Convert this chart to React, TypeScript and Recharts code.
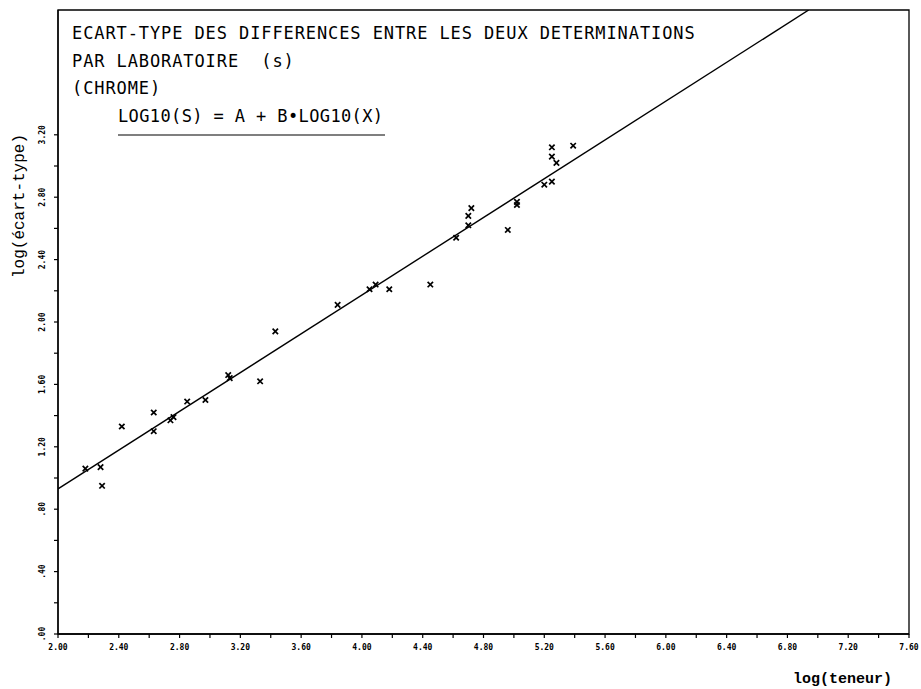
import React from 'react';
import {
  ComposedChart, Scatter, Line, XAxis, YAxis, ReferenceArea
} from 'recharts';

// log(teneur) / log(écart-type) pairs
const logTeneur = [
  2.18, 2.28, 2.29, 2.42, 2.63, 2.63, 2.74, 2.76, 2.85, 2.97, 3.12, 3.13, 3.33,
  3.43, 3.84, 4.05, 4.09, 4.18, 4.45, 4.62, 4.70, 4.70, 4.72, 4.96, 5.02, 5.02,
  5.20, 5.25, 5.25, 5.25, 5.28, 5.39,
];
const logEcart = [
  1.06, 1.07, 0.95, 1.33, 1.42, 1.30, 1.37, 1.39, 1.49, 1.50, 1.66, 1.64, 1.62,
  1.94, 2.11, 2.21, 2.24, 2.21, 2.24, 2.54, 2.62, 2.68, 2.73, 2.59, 2.77, 2.75,
  2.88, 2.90, 3.06, 3.12, 3.02, 3.13,
];
const points = logTeneur.map((x, i) => ({ x, y: logEcart[i] }));

// regression line LOG10(S) = A + B*LOG10(X), ends
const fitX = [2.0, 6.94];
const fitY = [0.93, 4.0];
const fitLine = fitX.map((x, i) => ({ x, y: fitY[i] }));

const xTicks = [
  2.0, 2.2, 2.4, 2.6, 2.8, 3.0, 3.2, 3.4, 3.6, 3.8, 4.0, 4.2, 4.4, 4.6, 4.8,
  5.0, 5.2, 5.4, 5.6, 5.8, 6.0, 6.2, 6.4, 6.6, 6.8, 7.0, 7.2, 7.4, 7.6,
];
const xLabels: Record<string, string> = {
  '2.00': '2.00', '2.40': '2.40', '2.80': '2.80', '3.20': '3.20', '3.60': '3.60',
  '4.00': '4.00', '4.40': '4.40', '4.80': '4.80', '5.20': '5.20', '5.60': '5.60',
  '6.00': '6.00', '6.40': '6.40', '6.80': '6.80', '7.20': '7.20', '7.60': '7.60',
};
const yTicks = [
  0, 0.2, 0.4, 0.6, 0.8, 1.0, 1.2, 1.4, 1.6, 1.8, 2.0, 2.2, 2.4, 2.6, 2.8, 3.0, 3.2,
];
const yLabels: Record<string, string> = {
  '0.00': '.00', '0.40': '.40', '0.80': '.80', '1.20': '1.20', '1.60': '1.60',
  '2.00': '2.00', '2.40': '2.40', '2.80': '2.80', '3.20': '3.20',
};

const titleLines = [
  'ECART-TYPE DES DIFFERENCES ENTRE LES DEUX DETERMINATIONS',
  'PAR LABORATOIRE  (s)',
  '(CHROME)',
];
const formula = 'LOG10(S) = A + B•LOG10(X)';

const tickFont = { fontFamily: 'DejaVu Sans Mono', fontWeight: 'bold', fontSize: 8, fill: '#000' };
const titleFont = { fontFamily: 'DejaVu Sans Mono', fontSize: 17, letterSpacing: 0.9, fill: '#000' };

const XMark = (props: any) => {
  const { cx, cy } = props;
  if (cx == null || cy == null) return null;
  const r = 2.7;
  return (
    <g stroke="#000" strokeWidth={1.7}>
      <line x1={cx - r} y1={cy - r} x2={cx + r} y2={cy + r} />
      <line x1={cx - r} y1={cy + r} x2={cx + r} y2={cy - r} />
    </g>
  );
};

const XTick = (props: any) => {
  const { x, y, payload } = props;
  const label = xLabels[Number(payload.value).toFixed(2)];
  if (!label) return null;
  return (
    <text x={x} y={y + 8} textAnchor="middle" {...tickFont}>{label}</text>
  );
};

const YTick = (props: any) => {
  const { x, y, payload } = props;
  const label = yLabels[Number(payload.value).toFixed(2)];
  if (!label) return null;
  return (
    <text transform={`translate(${x - 5},${y}) rotate(-90)`} textAnchor="middle" {...tickFont}>
      {label}
    </text>
  );
};

export default function App() {
  return (
    <div style={{ position: 'absolute', left: 0, top: 0, width: 921, height: 689, background: '#fff' }}>
      <ComposedChart width={921} height={689} margin={{ top: 10, right: 12, left: 0, bottom: 0 }}>
        <XAxis
          type="number"
          dataKey="x"
          domain={[2, 7.6]}
          ticks={xTicks}
          interval={0}
          allowDataOverflow
          height={55}
          axisLine={{ stroke: '#000', strokeWidth: 1.3 }}
          tickLine={{ stroke: '#000', strokeWidth: 1.2 }}
          tickSize={4}
          tickMargin={4}
          tick={<XTick />}
        />
        <YAxis
          type="number"
          dataKey="y"
          domain={[0, 4]}
          ticks={yTicks}
          interval={0}
          allowDataOverflow
          width={58}
          axisLine={{ stroke: '#000', strokeWidth: 1.3 }}
          tickLine={{ stroke: '#000', strokeWidth: 1.2 }}
          tickSize={4}
          tickMargin={4}
          tick={<YTick />}
        />
        <ReferenceArea x1={2} x2={7.6} y1={0} y2={4} fill="none" stroke="#000" strokeWidth={1.3} ifOverflow="visible" />
        <Line data={fitLine} dataKey="y" stroke="#000" strokeWidth={1.4} dot={false} isAnimationActive={false} />
        <Scatter data={points} dataKey="y" shape={<XMark />} isAnimationActive={false} />
      </ComposedChart>
      <svg width={921} height={689} style={{ position: 'absolute', left: 0, top: 0, pointerEvents: 'none' }}>
        {titleLines.map((t, i) => (
          <text key={i} x={72} y={39 + i * 27.7} {...titleFont} xmlSpace="preserve" style={{ whiteSpace: 'pre' }}>{t}</text>
        ))}
        <text x={118} y={122} {...titleFont} textLength={266} lengthAdjust="spacing">{formula}</text>
        <line x1={118} y1={135} x2={385} y2={135} stroke="#000" strokeWidth={1.2} />
        <text transform="translate(24,206) rotate(-90)" textAnchor="middle" fontFamily="Liberation Mono" fontSize={16} fill="#000">
          log(écart-type)
        </text>
        <text x={892} y={683} textAnchor="end" fontFamily="Liberation Mono" fontWeight="bold" fontSize={15} fill="#000">
          log(teneur)
        </text>
      </svg>
    </div>
  );
}
